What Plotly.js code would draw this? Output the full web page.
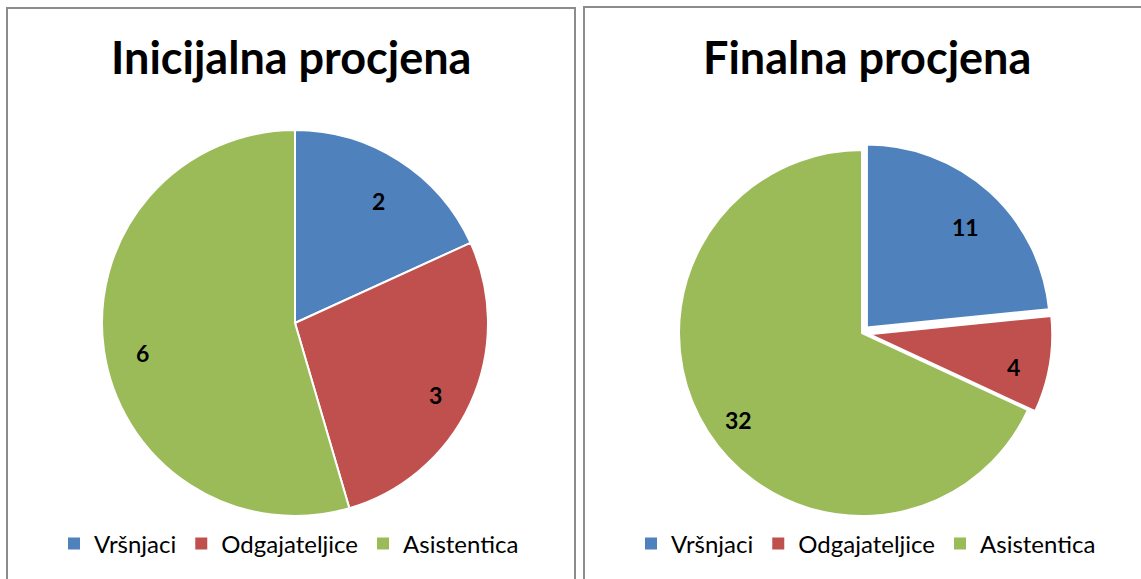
<!DOCTYPE html>
<html>
<head>
<meta charset="utf-8">
<script src="https://cdn.plot.ly/plotly-3.0.1.min.js"></script>
<style>html,body{margin:0;padding:0;background:#fff;}#chart{width:1141px;height:579px;}</style>
</head>
<body>
<div id="chart"></div>
<script>
const categories = ['Vršnjaci', 'Odgajateljice', 'Asistentica'];
const initialValues = [2, 3, 6];
const finalValues = [11, 4, 32];
const chartTitles = ['Inicijalna procjena', 'Finalna procjena'];

const colors = ['#4F81BD', '#C0504D', '#9BBB59'];
const W = 1141, H = 579;
const px = x => x / W;
const py = y => 1 - y / H;
const FONT = 'Lato, "Open Sans", sans-serif';

// pie geometry (pixels)
const pies = [
  {values: initialValues, cx: 295, cy: 323, r: 193, pull: [0, 0, 0], legend: 'legend', legendX: 289, titleX: 291},
  {values: finalValues, cx: 862, cy: 333, r: 183, pull: [0.04, 0.04, 0], legend: 'legend2', legendX: 866, titleX: 866.5}
];

const traces = [];
const annotations = [];
pies.forEach((p, k) => {
  const maxPull = Math.max(...p.pull);
  const R = p.r * (1 + maxPull);
  traces.push({
    type: 'pie',
    labels: categories,
    values: p.values,
    sort: false,
    direction: 'clockwise',
    rotation: 0,
    pull: p.pull,
    textinfo: 'none',
    showlegend: false,
    marker: {colors: colors, line: {color: '#ffffff', width: 2}},
    domain: {x: [px(p.cx - R), px(p.cx + R)], y: [py(p.cy + R), py(p.cy - R)]},
    hoverinfo: 'label+value+percent'
  });
  // value labels, placed along each slice bisector
  const total = p.values.reduce((a, b) => a + b, 0);
  let cum = 0;
  p.values.forEach((v, i) => {
    const mid = (cum + v / 2) / total * 2 * Math.PI;
    cum += v;
    const dist = p.r * (0.8 + p.pull[i]);
    annotations.push({
      text: '<b>' + v + '</b>',
      x: px(p.cx + dist * Math.sin(mid)),
      y: py(p.cy - dist * Math.cos(mid) + 8),
      xref: 'paper', yref: 'paper', showarrow: false,
      xanchor: 'center', yanchor: 'middle',
      font: {family: FONT, size: 23, color: '#000'}
    });
  });
  // legend entries
  categories.forEach((c, i) => {
    traces.push({
      type: 'scatter', mode: 'markers', x: [null], y: [null],
      name: c, legend: p.legend, showlegend: true,
      marker: {symbol: 'square', size: 12, color: colors[i]},
      hoverinfo: 'skip'
    });
  });
  annotations.push({
    text: '<b>' + chartTitles[k] + '</b>', x: px(p.titleX), y: py(57),
    xref: 'paper', yref: 'paper', showarrow: false,
    xanchor: 'center', yanchor: 'middle',
    font: {family: FONT, size: 45, color: '#000'}
  });
});

const legendBase = {
  orientation: 'h',
  xanchor: 'center', yanchor: 'middle',
  font: {family: FONT, size: 24, color: '#000'},
  bgcolor: 'rgba(0,0,0,0)',
  itemclick: false, itemdoubleclick: false, traceorder: 'normal'
};

const layout = {
  width: W, height: H,
  margin: {l: 0, r: 0, t: 0, b: 0},
  paper_bgcolor: '#fff',
  plot_bgcolor: 'rgba(0,0,0,0)',
  xaxis: {visible: false, fixedrange: true},
  yaxis: {visible: false, fixedrange: true},
  showlegend: true,
  legend: Object.assign({}, legendBase, {x: px(pies[0].legendX), y: py(544)}),
  legend2: Object.assign({}, legendBase, {x: px(pies[1].legendX), y: py(544)}),
  annotations: annotations,
  shapes: [
    {type: 'rect', xref: 'paper', yref: 'paper', x0: px(7), x1: px(575), y0: py(620), y1: py(8),
     line: {color: '#8c8c8c', width: 2}, fillcolor: 'rgba(0,0,0,0)', layer: 'above'},
    {type: 'rect', xref: 'paper', yref: 'paper', x0: px(584), x1: px(1160), y0: py(620), y1: py(7),
     line: {color: '#8c8c8c', width: 2}, fillcolor: 'rgba(0,0,0,0)', layer: 'above'}
  ]
};

Plotly.newPlot('chart', traces, layout, {displayModeBar: false, staticPlot: true});
</script>
</body>
</html>
